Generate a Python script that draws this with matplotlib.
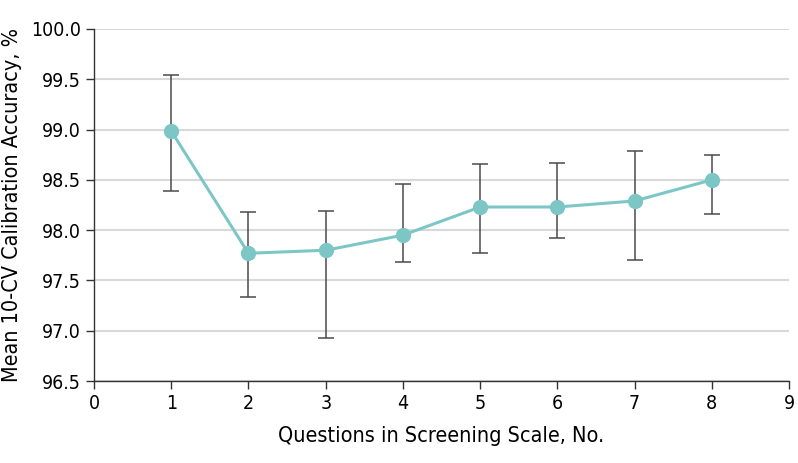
import matplotlib
matplotlib.use("Agg")
import matplotlib.pyplot as plt

# data
questions = [1, 2, 3, 4, 5, 6, 7, 8]
accuracy = [98.985, 97.77, 97.80, 97.95, 98.23, 98.23, 98.29, 98.50]
ci_low = [98.39, 97.34, 96.93, 97.68, 97.77, 97.92, 97.70, 98.16]
ci_high = [99.54, 98.18, 98.19, 98.46, 98.66, 98.67, 98.79, 98.75]

plt.rcParams['font.family'] = ['DejaVu Sans']
plt.rcParams['font.stretch'] = 'condensed'

fig = plt.figure(figsize=(7.98, 4.63), dpi=100)
ax = fig.add_axes([0.1178, 0.1771, 0.871, 0.7603])

err_lo = [a - l for a, l in zip(accuracy, ci_low)]
err_hi = [h - a for a, h in zip(accuracy, ci_high)]
ax.errorbar(questions, accuracy, yerr=[err_lo, err_hi], fmt='none',
            ecolor='#4a4a4a', elinewidth=1.1, capsize=6, capthick=1.1, zorder=2)
ax.plot(questions, accuracy, color='#7cc7c6', lw=2.2, marker='o', ms=11,
        markeredgewidth=0, zorder=3)

ax.set_xlim(0, 9)
ax.set_ylim(96.5, 100.0)
ax.set_xticks(range(0, 10))
ax.set_yticks([96.5, 97.0, 97.5, 98.0, 98.5, 99.0, 99.5, 100.0])
ax.set_yticklabels([f"{v:.1f}" for v in ax.get_yticks()])
ax.yaxis.grid(True, color='#d9d9d9', lw=1.5)
ax.set_axisbelow(True)

for s in ['top', 'right']:
    ax.spines[s].set_visible(False)
for s in ['left', 'bottom']:
    ax.spines[s].set_color('#333333')
    ax.spines[s].set_linewidth(1.0)
ax.tick_params(axis='both', colors='#333333', labelcolor='black',
               labelsize=14, length=6, width=1.0)

ax.set_xlabel('Questions in Screening Scale, No.', fontsize=15.5, labelpad=9)
ax.set_ylabel('Mean 10-CV Calibration Accuracy, %', fontsize=15.5, labelpad=6)

fig.savefig('out.png', dpi=100)
